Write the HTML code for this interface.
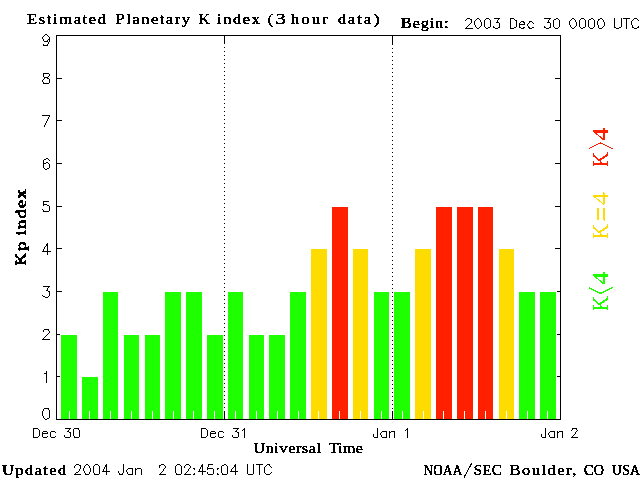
<!DOCTYPE html>
<html><head><meta charset="utf-8"><title>Estimated Planetary K index</title>
<style>html,body{margin:0;padding:0;background:#fff;overflow:hidden}svg{display:block;will-change:transform}.b{font-family:"Liberation Serif",serif;font-weight:normal;fill:#000;stroke:#000;stroke-width:0.45px}.r{font-family:"Liberation Serif",serif}</style></head><body>
<svg width="640" height="480" viewBox="0 0 640 480">
<rect x="0" y="0" width="640" height="480" fill="#fff"/>
<g shape-rendering="crispEdges">
<rect x="61" y="335" width="16" height="84" fill="#1eff00"/>
<rect x="69" y="411" width="1" height="8" fill="#fff"/>
<rect x="82" y="377" width="16" height="42" fill="#1eff00"/>
<rect x="89" y="411" width="1" height="8" fill="#fff"/>
<rect x="103" y="292" width="15" height="127" fill="#1eff00"/>
<rect x="110" y="411" width="1" height="8" fill="#fff"/>
<rect x="124" y="335" width="15" height="84" fill="#1eff00"/>
<rect x="131" y="411" width="1" height="8" fill="#fff"/>
<rect x="145" y="335" width="15" height="84" fill="#1eff00"/>
<rect x="152" y="411" width="1" height="8" fill="#fff"/>
<rect x="165" y="292" width="16" height="127" fill="#1eff00"/>
<rect x="173" y="411" width="1" height="8" fill="#fff"/>
<rect x="186" y="292" width="16" height="127" fill="#1eff00"/>
<rect x="193" y="411" width="1" height="8" fill="#fff"/>
<rect x="207" y="335" width="16" height="84" fill="#1eff00"/>
<rect x="214" y="411" width="1" height="8" fill="#fff"/>
<rect x="228" y="292" width="15" height="127" fill="#1eff00"/>
<rect x="235" y="411" width="1" height="8" fill="#fff"/>
<rect x="249" y="335" width="15" height="84" fill="#1eff00"/>
<rect x="256" y="411" width="1" height="8" fill="#fff"/>
<rect x="269" y="335" width="16" height="84" fill="#1eff00"/>
<rect x="277" y="411" width="1" height="8" fill="#fff"/>
<rect x="290" y="292" width="16" height="127" fill="#1eff00"/>
<rect x="298" y="411" width="1" height="8" fill="#fff"/>
<rect x="311" y="249" width="16" height="170" fill="#ffdc00"/>
<rect x="318" y="411" width="1" height="8" fill="#fff"/>
<rect x="332" y="207" width="16" height="212" fill="#ff2000"/>
<rect x="339" y="411" width="1" height="8" fill="#fff"/>
<rect x="353" y="249" width="15" height="170" fill="#ffdc00"/>
<rect x="360" y="411" width="1" height="8" fill="#fff"/>
<rect x="374" y="292" width="15" height="127" fill="#1eff00"/>
<rect x="381" y="411" width="1" height="8" fill="#fff"/>
<rect x="394" y="292" width="16" height="127" fill="#1eff00"/>
<rect x="402" y="411" width="1" height="8" fill="#fff"/>
<rect x="415" y="249" width="16" height="170" fill="#ffdc00"/>
<rect x="423" y="411" width="1" height="8" fill="#fff"/>
<rect x="436" y="207" width="16" height="212" fill="#ff2000"/>
<rect x="443" y="411" width="1" height="8" fill="#fff"/>
<rect x="457" y="207" width="16" height="212" fill="#ff2000"/>
<rect x="464" y="411" width="1" height="8" fill="#fff"/>
<rect x="478" y="207" width="15" height="212" fill="#ff2000"/>
<rect x="485" y="411" width="1" height="8" fill="#fff"/>
<rect x="499" y="249" width="15" height="170" fill="#ffdc00"/>
<rect x="506" y="411" width="1" height="8" fill="#fff"/>
<rect x="519" y="292" width="16" height="127" fill="#1eff00"/>
<rect x="527" y="411" width="1" height="8" fill="#fff"/>
<rect x="540" y="292" width="16" height="127" fill="#1eff00"/>
<rect x="547" y="411" width="1" height="8" fill="#fff"/>
<rect x="56" y="35" width="505" height="1" fill="#000"/>
<rect x="56" y="419" width="505" height="1" fill="#000"/>
<rect x="56" y="35" width="1" height="385" fill="#000"/>
<rect x="560" y="35" width="1" height="385" fill="#000"/>
<rect x="57" y="376" width="3" height="1" fill="#000"/>
<rect x="557" y="376" width="3" height="1" fill="#000"/>
<rect x="57" y="334" width="3" height="1" fill="#000"/>
<rect x="557" y="334" width="3" height="1" fill="#000"/>
<rect x="57" y="291" width="5" height="1" fill="#000"/>
<rect x="557" y="291" width="3" height="1" fill="#000"/>
<rect x="57" y="248" width="5" height="1" fill="#000"/>
<rect x="555" y="248" width="5" height="1" fill="#000"/>
<rect x="57" y="206" width="5" height="1" fill="#000"/>
<rect x="555" y="206" width="5" height="1" fill="#000"/>
<rect x="57" y="163" width="5" height="1" fill="#000"/>
<rect x="555" y="163" width="5" height="1" fill="#000"/>
<rect x="57" y="120" width="5" height="1" fill="#000"/>
<rect x="555" y="120" width="5" height="1" fill="#000"/>
<rect x="57" y="78" width="5" height="1" fill="#000"/>
<rect x="555" y="78" width="5" height="1" fill="#000"/>
<rect x="224" y="36" width="1" height="8" fill="#000"/>
<rect x="224" y="411" width="1" height="8" fill="#000"/>
<rect x="224" y="47" width="1" height="1" fill="#000"/>
<rect x="224" y="51" width="1" height="1" fill="#000"/>
<rect x="224" y="55" width="1" height="1" fill="#000"/>
<rect x="224" y="59" width="1" height="1" fill="#000"/>
<rect x="224" y="63" width="1" height="1" fill="#000"/>
<rect x="224" y="67" width="1" height="1" fill="#000"/>
<rect x="224" y="71" width="1" height="1" fill="#000"/>
<rect x="224" y="75" width="1" height="1" fill="#000"/>
<rect x="224" y="79" width="1" height="1" fill="#000"/>
<rect x="224" y="83" width="1" height="1" fill="#000"/>
<rect x="224" y="87" width="1" height="1" fill="#000"/>
<rect x="224" y="91" width="1" height="1" fill="#000"/>
<rect x="224" y="95" width="1" height="1" fill="#000"/>
<rect x="224" y="99" width="1" height="1" fill="#000"/>
<rect x="224" y="103" width="1" height="1" fill="#000"/>
<rect x="224" y="107" width="1" height="1" fill="#000"/>
<rect x="224" y="111" width="1" height="1" fill="#000"/>
<rect x="224" y="115" width="1" height="1" fill="#000"/>
<rect x="224" y="119" width="1" height="1" fill="#000"/>
<rect x="224" y="123" width="1" height="1" fill="#000"/>
<rect x="224" y="127" width="1" height="1" fill="#000"/>
<rect x="224" y="131" width="1" height="1" fill="#000"/>
<rect x="224" y="135" width="1" height="1" fill="#000"/>
<rect x="224" y="139" width="1" height="1" fill="#000"/>
<rect x="224" y="143" width="1" height="1" fill="#000"/>
<rect x="224" y="147" width="1" height="1" fill="#000"/>
<rect x="224" y="151" width="1" height="1" fill="#000"/>
<rect x="224" y="155" width="1" height="1" fill="#000"/>
<rect x="224" y="159" width="1" height="1" fill="#000"/>
<rect x="224" y="163" width="1" height="1" fill="#000"/>
<rect x="224" y="167" width="1" height="1" fill="#000"/>
<rect x="224" y="171" width="1" height="1" fill="#000"/>
<rect x="224" y="175" width="1" height="1" fill="#000"/>
<rect x="224" y="179" width="1" height="1" fill="#000"/>
<rect x="224" y="183" width="1" height="1" fill="#000"/>
<rect x="224" y="187" width="1" height="1" fill="#000"/>
<rect x="224" y="191" width="1" height="1" fill="#000"/>
<rect x="224" y="195" width="1" height="1" fill="#000"/>
<rect x="224" y="199" width="1" height="1" fill="#000"/>
<rect x="224" y="203" width="1" height="1" fill="#000"/>
<rect x="224" y="207" width="1" height="1" fill="#000"/>
<rect x="224" y="211" width="1" height="1" fill="#000"/>
<rect x="224" y="215" width="1" height="1" fill="#000"/>
<rect x="224" y="219" width="1" height="1" fill="#000"/>
<rect x="224" y="223" width="1" height="1" fill="#000"/>
<rect x="224" y="227" width="1" height="1" fill="#000"/>
<rect x="224" y="231" width="1" height="1" fill="#000"/>
<rect x="224" y="235" width="1" height="1" fill="#000"/>
<rect x="224" y="239" width="1" height="1" fill="#000"/>
<rect x="224" y="243" width="1" height="1" fill="#000"/>
<rect x="224" y="247" width="1" height="1" fill="#000"/>
<rect x="224" y="251" width="1" height="1" fill="#000"/>
<rect x="224" y="255" width="1" height="1" fill="#000"/>
<rect x="224" y="259" width="1" height="1" fill="#000"/>
<rect x="224" y="263" width="1" height="1" fill="#000"/>
<rect x="224" y="267" width="1" height="1" fill="#000"/>
<rect x="224" y="271" width="1" height="1" fill="#000"/>
<rect x="224" y="275" width="1" height="1" fill="#000"/>
<rect x="224" y="279" width="1" height="1" fill="#000"/>
<rect x="224" y="283" width="1" height="1" fill="#000"/>
<rect x="224" y="287" width="1" height="1" fill="#000"/>
<rect x="224" y="291" width="1" height="1" fill="#000"/>
<rect x="224" y="295" width="1" height="1" fill="#000"/>
<rect x="224" y="299" width="1" height="1" fill="#000"/>
<rect x="224" y="303" width="1" height="1" fill="#000"/>
<rect x="224" y="307" width="1" height="1" fill="#000"/>
<rect x="224" y="311" width="1" height="1" fill="#000"/>
<rect x="224" y="315" width="1" height="1" fill="#000"/>
<rect x="224" y="319" width="1" height="1" fill="#000"/>
<rect x="224" y="323" width="1" height="1" fill="#000"/>
<rect x="224" y="327" width="1" height="1" fill="#000"/>
<rect x="224" y="331" width="1" height="1" fill="#000"/>
<rect x="224" y="335" width="1" height="1" fill="#000"/>
<rect x="224" y="339" width="1" height="1" fill="#000"/>
<rect x="224" y="343" width="1" height="1" fill="#000"/>
<rect x="224" y="347" width="1" height="1" fill="#000"/>
<rect x="224" y="351" width="1" height="1" fill="#000"/>
<rect x="224" y="355" width="1" height="1" fill="#000"/>
<rect x="224" y="359" width="1" height="1" fill="#000"/>
<rect x="224" y="363" width="1" height="1" fill="#000"/>
<rect x="224" y="367" width="1" height="1" fill="#000"/>
<rect x="224" y="371" width="1" height="1" fill="#000"/>
<rect x="224" y="375" width="1" height="1" fill="#000"/>
<rect x="224" y="379" width="1" height="1" fill="#000"/>
<rect x="224" y="383" width="1" height="1" fill="#000"/>
<rect x="224" y="387" width="1" height="1" fill="#000"/>
<rect x="224" y="391" width="1" height="1" fill="#000"/>
<rect x="224" y="395" width="1" height="1" fill="#000"/>
<rect x="224" y="399" width="1" height="1" fill="#000"/>
<rect x="224" y="403" width="1" height="1" fill="#000"/>
<rect x="224" y="407" width="1" height="1" fill="#000"/>
<rect x="392" y="36" width="1" height="8" fill="#000"/>
<rect x="392" y="411" width="1" height="8" fill="#000"/>
<rect x="392" y="44" width="1" height="1" fill="#000"/>
<rect x="392" y="48" width="1" height="1" fill="#000"/>
<rect x="392" y="52" width="1" height="1" fill="#000"/>
<rect x="392" y="56" width="1" height="1" fill="#000"/>
<rect x="392" y="60" width="1" height="1" fill="#000"/>
<rect x="392" y="64" width="1" height="1" fill="#000"/>
<rect x="392" y="68" width="1" height="1" fill="#000"/>
<rect x="392" y="72" width="1" height="1" fill="#000"/>
<rect x="392" y="76" width="1" height="1" fill="#000"/>
<rect x="392" y="80" width="1" height="1" fill="#000"/>
<rect x="392" y="84" width="1" height="1" fill="#000"/>
<rect x="392" y="88" width="1" height="1" fill="#000"/>
<rect x="392" y="92" width="1" height="1" fill="#000"/>
<rect x="392" y="96" width="1" height="1" fill="#000"/>
<rect x="392" y="100" width="1" height="1" fill="#000"/>
<rect x="392" y="104" width="1" height="1" fill="#000"/>
<rect x="392" y="108" width="1" height="1" fill="#000"/>
<rect x="392" y="112" width="1" height="1" fill="#000"/>
<rect x="392" y="116" width="1" height="1" fill="#000"/>
<rect x="392" y="120" width="1" height="1" fill="#000"/>
<rect x="392" y="124" width="1" height="1" fill="#000"/>
<rect x="392" y="128" width="1" height="1" fill="#000"/>
<rect x="392" y="132" width="1" height="1" fill="#000"/>
<rect x="392" y="136" width="1" height="1" fill="#000"/>
<rect x="392" y="140" width="1" height="1" fill="#000"/>
<rect x="392" y="144" width="1" height="1" fill="#000"/>
<rect x="392" y="148" width="1" height="1" fill="#000"/>
<rect x="392" y="152" width="1" height="1" fill="#000"/>
<rect x="392" y="156" width="1" height="1" fill="#000"/>
<rect x="392" y="160" width="1" height="1" fill="#000"/>
<rect x="392" y="164" width="1" height="1" fill="#000"/>
<rect x="392" y="168" width="1" height="1" fill="#000"/>
<rect x="392" y="172" width="1" height="1" fill="#000"/>
<rect x="392" y="176" width="1" height="1" fill="#000"/>
<rect x="392" y="180" width="1" height="1" fill="#000"/>
<rect x="392" y="184" width="1" height="1" fill="#000"/>
<rect x="392" y="188" width="1" height="1" fill="#000"/>
<rect x="392" y="192" width="1" height="1" fill="#000"/>
<rect x="392" y="196" width="1" height="1" fill="#000"/>
<rect x="392" y="200" width="1" height="1" fill="#000"/>
<rect x="392" y="204" width="1" height="1" fill="#000"/>
<rect x="392" y="208" width="1" height="1" fill="#000"/>
<rect x="392" y="212" width="1" height="1" fill="#000"/>
<rect x="392" y="216" width="1" height="1" fill="#000"/>
<rect x="392" y="220" width="1" height="1" fill="#000"/>
<rect x="392" y="224" width="1" height="1" fill="#000"/>
<rect x="392" y="228" width="1" height="1" fill="#000"/>
<rect x="392" y="232" width="1" height="1" fill="#000"/>
<rect x="392" y="236" width="1" height="1" fill="#000"/>
<rect x="392" y="240" width="1" height="1" fill="#000"/>
<rect x="392" y="244" width="1" height="1" fill="#000"/>
<rect x="392" y="248" width="1" height="1" fill="#000"/>
<rect x="392" y="252" width="1" height="1" fill="#000"/>
<rect x="392" y="256" width="1" height="1" fill="#000"/>
<rect x="392" y="260" width="1" height="1" fill="#000"/>
<rect x="392" y="264" width="1" height="1" fill="#000"/>
<rect x="392" y="268" width="1" height="1" fill="#000"/>
<rect x="392" y="272" width="1" height="1" fill="#000"/>
<rect x="392" y="276" width="1" height="1" fill="#000"/>
<rect x="392" y="280" width="1" height="1" fill="#000"/>
<rect x="392" y="284" width="1" height="1" fill="#000"/>
<rect x="392" y="288" width="1" height="1" fill="#000"/>
<rect x="392" y="292" width="1" height="1" fill="#000"/>
<rect x="392" y="296" width="1" height="1" fill="#000"/>
<rect x="392" y="300" width="1" height="1" fill="#000"/>
<rect x="392" y="304" width="1" height="1" fill="#000"/>
<rect x="392" y="308" width="1" height="1" fill="#000"/>
<rect x="392" y="312" width="1" height="1" fill="#000"/>
<rect x="392" y="316" width="1" height="1" fill="#000"/>
<rect x="392" y="320" width="1" height="1" fill="#000"/>
<rect x="392" y="324" width="1" height="1" fill="#000"/>
<rect x="392" y="328" width="1" height="1" fill="#000"/>
<rect x="392" y="332" width="1" height="1" fill="#000"/>
<rect x="392" y="336" width="1" height="1" fill="#000"/>
<rect x="392" y="340" width="1" height="1" fill="#000"/>
<rect x="392" y="344" width="1" height="1" fill="#000"/>
<rect x="392" y="348" width="1" height="1" fill="#000"/>
<rect x="392" y="352" width="1" height="1" fill="#000"/>
<rect x="392" y="356" width="1" height="1" fill="#000"/>
<rect x="392" y="360" width="1" height="1" fill="#000"/>
<rect x="392" y="364" width="1" height="1" fill="#000"/>
<rect x="392" y="368" width="1" height="1" fill="#000"/>
<rect x="392" y="372" width="1" height="1" fill="#000"/>
<rect x="392" y="376" width="1" height="1" fill="#000"/>
<rect x="392" y="380" width="1" height="1" fill="#000"/>
<rect x="392" y="384" width="1" height="1" fill="#000"/>
<rect x="392" y="388" width="1" height="1" fill="#000"/>
<rect x="392" y="392" width="1" height="1" fill="#000"/>
<rect x="392" y="396" width="1" height="1" fill="#000"/>
<rect x="392" y="400" width="1" height="1" fill="#000"/>
<rect x="392" y="404" width="1" height="1" fill="#000"/>
<rect x="392" y="408" width="1" height="1" fill="#000"/>
</g>
<defs><filter id="th" x="0" y="0" width="640" height="480" filterUnits="userSpaceOnUse" color-interpolation-filters="sRGB"><feComponentTransfer><feFuncA type="discrete" tableValues="0 1"/></feComponentTransfer></filter></defs>
<g filter="url(#th)">
<text class="b" transform="translate(27.0,24) scale(1.100,1)" font-size="15" textLength="71.82" lengthAdjust="spacing">Estimated</text>
<text class="b" transform="translate(115.5,24) scale(1.100,1)" font-size="15" textLength="67.73" lengthAdjust="spacing">Planetary</text>
<text class="b" transform="translate(199.0,24) scale(0.995,1)" font-size="15" textLength="11.05" lengthAdjust="spacing">K</text>
<text class="b" transform="translate(217.0,24) scale(1.100,1)" font-size="15" textLength="39.09" lengthAdjust="spacing">index</text>
<text class="b" transform="translate(267.7,23.6) scale(1.040,1)" font-size="15" textLength="5.10" lengthAdjust="spacing">(</text>
<text class="b" transform="translate(275.5,24) scale(1.350,1)" font-size="15" textLength="14.59" lengthAdjust="spacing">3</text>
<text class="b" transform="translate(291.0,24) scale(1.100,1)" font-size="15" textLength="33.36" lengthAdjust="spacing">hour</text>
<text class="b" transform="translate(338.0,24) scale(1.100,1)" font-size="15" textLength="30.00" lengthAdjust="spacing">data</text>
<text class="b" transform="translate(373.5,23.6) scale(1.197,1)" font-size="15" textLength="5.10" lengthAdjust="spacing">)</text>
<text class="b" transform="translate(401.0,27.5) scale(1.100,1)" font-size="14.5" textLength="43.45" lengthAdjust="spacing">Begin:</text>
<text class="b" transform="translate(253.5,452.5) scale(1.100,1)" font-size="14.5" textLength="61.36" lengthAdjust="spacing">Universal</text>
<text class="b" transform="translate(328.7,452.5) scale(1.100,1)" font-size="14.5" textLength="31.00" lengthAdjust="spacing">Time</text>
<text class="b" transform="translate(2.0,474.5) scale(1.100,1)" font-size="15" textLength="58.45" lengthAdjust="spacing">Updated</text>
<text class="b" transform="translate(423.5,474.7) scale(0.875,1)" font-size="15" textLength="44.21" lengthAdjust="spacing">NOAA</text>
<text class="b" transform="translate(473.7,474.7) scale(0.994,1)" font-size="15" textLength="28.07" lengthAdjust="spacing">SEC</text>
<text class="b" transform="translate(509.6,474.7) scale(1.100,1)" font-size="15" textLength="60.64" lengthAdjust="spacing">Boulder,</text>
<text class="b" transform="translate(584.0,474.7) scale(0.941,1)" font-size="15" textLength="21.26" lengthAdjust="spacing">CO</text>
<text class="b" transform="translate(612.0,474.7) scale(0.914,1)" font-size="15" textLength="30.62" lengthAdjust="spacing">USA</text>
<line x1="463.8" y1="478" x2="472" y2="462.5" stroke="#000" stroke-width="1.1"/>
<g transform="translate(25.8,265.5) rotate(-90)">
<text class="b" transform="translate(-0.3,0) scale(1.221,1)" font-size="15" textLength="11.05" lengthAdjust="spacing" style="stroke-width:0.75px">K</text>
<text class="b" transform="translate(14.5,0) scale(1.300,1)" font-size="15" textLength="8.46" lengthAdjust="spacing" style="stroke-width:0.75px">p</text>
<text class="b" transform="translate(30,0) scale(1.300,1)" font-size="15" textLength="35.62" lengthAdjust="spacing" style="stroke-width:0.75px">index</text>
</g>
<g transform="translate(608,167) rotate(-90)" fill="#ff2000" stroke="none">
<text class="r" x="0" y="0" font-size="24" textLength="15" lengthAdjust="spacingAndGlyphs">K</text>
<text class="r" x="26.5" y="0" font-size="24" textLength="13" lengthAdjust="spacingAndGlyphs">4</text>
<polyline points="18.2,-19.3 24.2,-7.5 18.2,4.7" fill="none" stroke="#ff2000" stroke-width="1.2"/>
</g>
<g transform="translate(608,239) rotate(-90)" fill="#ffdc00" stroke="none">
<text class="r" x="0" y="0" font-size="24" textLength="15" lengthAdjust="spacingAndGlyphs">K</text>
<text class="r" x="34" y="0" font-size="24" textLength="13" lengthAdjust="spacingAndGlyphs">4</text>
<rect x="18.4" y="-10.7" width="12.6" height="1.5"/><rect x="18.4" y="-4.6" width="12.6" height="1.5"/>
</g>
<g transform="translate(608,311) rotate(-90)" fill="#1eff00" stroke="none">
<text class="r" x="0" y="0" font-size="24" textLength="15" lengthAdjust="spacingAndGlyphs">K</text>
<text class="r" x="26.5" y="0" font-size="24" textLength="13" lengthAdjust="spacingAndGlyphs">4</text>
<polyline points="23.5,-19.3 17.6,-7.5 23.5,4.7" fill="none" stroke="#1eff00" stroke-width="1.2"/>
</g>
</g>
<path fill="#000" shape-rendering="crispEdges" d="M467 18h3v1h-3zM477 18h2v1h-2zM486 18h3v1h-3zM494 18h6v1h-6zM510 18h4v1h-4zM544 18h7v1h-7zM556 18h2v1h-2zM572 18h2v1h-2zM581 18h3v1h-3zM591 18h2v1h-2zM600 18h2v1h-2zM614 18h1v1h-1zM621 18h1v1h-1zM623 18h7v1h-7zM634 18h3v1h-3zM466 19h1v1h-1zM470 19h2v1h-2zM476 19h1v1h-1zM479 19h1v1h-1zM485 19h1v1h-1zM489 19h1v1h-1zM498 19h1v1h-1zM510 19h1v1h-1zM514 19h1v1h-1zM549 19h1v1h-1zM554 19h2v1h-2zM558 19h1v1h-1zM571 19h1v1h-1zM574 19h1v1h-1zM580 19h1v1h-1zM584 19h1v1h-1zM589 19h2v1h-2zM593 19h1v1h-1zM598 19h2v1h-2zM602 19h1v1h-1zM614 19h1v1h-1zM621 19h1v1h-1zM626 19h1v1h-1zM633 19h1v1h-1zM637 19h1v1h-1zM465 20h1v1h-1zM471 20h1v1h-1zM475 20h1v1h-1zM480 20h1v1h-1zM484 20h1v1h-1zM490 20h1v1h-1zM497 20h1v1h-1zM510 20h1v1h-1zM515 20h2v1h-2zM548 20h1v1h-1zM553 20h1v1h-1zM559 20h1v1h-1zM570 20h1v1h-1zM575 20h1v1h-1zM579 20h1v1h-1zM585 20h1v1h-1zM588 20h1v1h-1zM594 20h1v1h-1zM598 20h1v1h-1zM603 20h1v1h-1zM614 20h1v1h-1zM621 20h1v1h-1zM626 20h1v1h-1zM632 20h1v1h-1zM638 20h1v1h-1zM471 21h1v1h-1zM474 21h1v1h-1zM480 21h1v1h-1zM484 21h1v1h-1zM490 21h1v1h-1zM497 21h1v1h-1zM510 21h1v1h-1zM516 21h1v1h-1zM521 21h3v1h-3zM529 21h3v1h-3zM548 21h1v1h-1zM553 21h1v1h-1zM559 21h1v1h-1zM569 21h1v1h-1zM575 21h1v1h-1zM579 21h1v1h-1zM585 21h1v1h-1zM588 21h1v1h-1zM594 21h1v1h-1zM597 21h1v1h-1zM603 21h1v1h-1zM614 21h1v1h-1zM621 21h1v1h-1zM626 21h1v1h-1zM631 21h1v1h-1zM471 22h1v1h-1zM474 22h1v1h-1zM481 22h1v1h-1zM484 22h1v1h-1zM490 22h1v1h-1zM496 22h3v1h-3zM510 22h1v1h-1zM516 22h1v1h-1zM520 22h1v1h-1zM523 22h2v1h-2zM529 22h1v1h-1zM532 22h1v1h-1zM547 22h3v1h-3zM553 22h1v1h-1zM559 22h1v1h-1zM569 22h1v1h-1zM576 22h1v1h-1zM579 22h1v1h-1zM585 22h1v1h-1zM588 22h1v1h-1zM594 22h1v1h-1zM597 22h1v1h-1zM604 22h1v1h-1zM614 22h1v1h-1zM621 22h1v1h-1zM626 22h1v1h-1zM631 22h1v1h-1zM470 23h1v1h-1zM474 23h1v1h-1zM481 23h1v1h-1zM484 23h1v1h-1zM490 23h1v1h-1zM499 23h1v1h-1zM510 23h1v1h-1zM516 23h1v1h-1zM519 23h1v1h-1zM524 23h1v1h-1zM528 23h1v1h-1zM533 23h1v1h-1zM550 23h1v1h-1zM553 23h1v1h-1zM559 23h1v1h-1zM569 23h1v1h-1zM576 23h1v1h-1zM579 23h1v1h-1zM585 23h1v1h-1zM588 23h1v1h-1zM594 23h1v1h-1zM597 23h1v1h-1zM604 23h1v1h-1zM614 23h1v1h-1zM621 23h1v1h-1zM626 23h1v1h-1zM631 23h1v1h-1zM469 24h1v1h-1zM474 24h1v1h-1zM481 24h1v1h-1zM484 24h1v1h-1zM490 24h1v1h-1zM499 24h1v1h-1zM510 24h1v1h-1zM516 24h1v1h-1zM519 24h6v1h-6zM527 24h1v1h-1zM550 24h1v1h-1zM553 24h1v1h-1zM559 24h1v1h-1zM569 24h1v1h-1zM576 24h1v1h-1zM579 24h1v1h-1zM585 24h1v1h-1zM588 24h1v1h-1zM594 24h1v1h-1zM597 24h1v1h-1zM604 24h1v1h-1zM614 24h1v1h-1zM621 24h1v1h-1zM626 24h1v1h-1zM631 24h1v1h-1zM468 25h1v1h-1zM475 25h1v1h-1zM481 25h1v1h-1zM484 25h1v1h-1zM490 25h1v1h-1zM499 25h1v1h-1zM510 25h1v1h-1zM516 25h1v1h-1zM519 25h1v1h-1zM527 25h1v1h-1zM550 25h1v1h-1zM553 25h1v1h-1zM559 25h1v1h-1zM570 25h1v1h-1zM576 25h1v1h-1zM579 25h1v1h-1zM585 25h1v1h-1zM588 25h1v1h-1zM594 25h1v1h-1zM598 25h1v1h-1zM604 25h1v1h-1zM614 25h1v1h-1zM621 25h1v1h-1zM626 25h1v1h-1zM632 25h1v1h-1zM467 26h1v1h-1zM475 26h1v1h-1zM480 26h1v1h-1zM484 26h1v1h-1zM490 26h1v1h-1zM493 26h1v1h-1zM499 26h1v1h-1zM510 26h1v1h-1zM516 26h1v1h-1zM519 26h1v1h-1zM528 26h1v1h-1zM544 26h1v1h-1zM550 26h1v1h-1zM553 26h1v1h-1zM559 26h1v1h-1zM570 26h1v1h-1zM575 26h1v1h-1zM579 26h1v1h-1zM585 26h1v1h-1zM588 26h1v1h-1zM594 26h1v1h-1zM598 26h1v1h-1zM603 26h1v1h-1zM614 26h1v1h-1zM621 26h1v1h-1zM626 26h1v1h-1zM632 26h1v1h-1zM638 26h1v1h-1zM466 27h1v1h-1zM476 27h1v1h-1zM479 27h1v1h-1zM485 27h1v1h-1zM488 27h2v1h-2zM493 27h2v1h-2zM498 27h2v1h-2zM510 27h1v1h-1zM514 27h2v1h-2zM519 27h2v1h-2zM523 27h2v1h-2zM528 27h2v1h-2zM532 27h2v1h-2zM544 27h2v1h-2zM549 27h2v1h-2zM554 27h1v1h-1zM558 27h1v1h-1zM571 27h1v1h-1zM574 27h1v1h-1zM580 27h1v1h-1zM583 27h2v1h-2zM589 27h1v1h-1zM593 27h1v1h-1zM598 27h1v1h-1zM602 27h1v1h-1zM614 27h2v1h-2zM619 27h2v1h-2zM626 27h1v1h-1zM632 27h2v1h-2zM637 27h2v1h-2zM465 28h8v1h-8zM477 28h2v1h-2zM486 28h2v1h-2zM495 28h3v1h-3zM510 28h4v1h-4zM521 28h3v1h-3zM529 28h3v1h-3zM546 28h3v1h-3zM555 28h3v1h-3zM572 28h2v1h-2zM581 28h2v1h-2zM590 28h3v1h-3zM599 28h3v1h-3zM616 28h3v1h-3zM626 28h1v1h-1zM634 28h3v1h-3zM45 34h2v1h-2zM44 35h1v1h-1zM47 35h1v1h-1zM43 36h1v1h-1zM48 36h1v1h-1zM42 37h1v1h-1zM49 37h1v1h-1zM42 38h1v1h-1zM49 38h1v1h-1zM43 39h1v1h-1zM48 39h2v1h-2zM43 40h1v1h-1zM47 40h1v1h-1zM49 40h1v1h-1zM44 41h4v1h-4zM49 41h1v1h-1zM48 42h1v1h-1zM48 43h1v1h-1zM43 44h1v1h-1zM47 44h1v1h-1zM43 45h5v1h-5zM43 73h6v1h-6zM43 74h1v1h-1zM49 74h1v1h-1zM43 75h1v1h-1zM49 75h1v1h-1zM43 76h1v1h-1zM48 76h1v1h-1zM44 77h4v1h-4zM44 78h1v1h-1zM47 78h2v1h-2zM43 79h1v1h-1zM49 79h1v1h-1zM42 80h1v1h-1zM49 80h1v1h-1zM42 81h1v1h-1zM49 81h1v1h-1zM43 82h1v1h-1zM49 82h1v1h-1zM43 83h6v1h-6zM42 115h8v1h-8zM49 116h1v1h-1zM48 117h1v1h-1zM48 118h1v1h-1zM47 119h1v1h-1zM47 120h1v1h-1zM46 121h1v1h-1zM46 122h1v1h-1zM45 123h1v1h-1zM45 124h1v1h-1zM44 125h1v1h-1zM44 126h1v1h-1zM46 158h2v1h-2zM44 159h2v1h-2zM48 159h1v1h-1zM43 160h1v1h-1zM49 160h1v1h-1zM43 161h1v1h-1zM43 162h1v1h-1zM46 162h2v1h-2zM43 163h3v1h-3zM48 163h1v1h-1zM43 164h1v1h-1zM49 164h1v1h-1zM43 165h1v1h-1zM49 165h1v1h-1zM43 166h1v1h-1zM49 166h1v1h-1zM43 167h1v1h-1zM49 167h1v1h-1zM44 168h1v1h-1zM47 168h2v1h-2zM45 169h2v1h-2zM43 201h6v1h-6zM43 202h1v1h-1zM43 203h1v1h-1zM43 204h4v1h-4zM43 205h1v1h-1zM47 205h2v1h-2zM49 206h1v1h-1zM49 207h1v1h-1zM49 208h1v1h-1zM42 209h1v1h-1zM49 209h1v1h-1zM43 210h1v1h-1zM49 210h1v1h-1zM43 211h6v1h-6zM47 243h1v1h-1zM46 244h2v1h-2zM46 245h2v1h-2zM45 246h1v1h-1zM47 246h1v1h-1zM44 247h1v1h-1zM47 247h1v1h-1zM44 248h1v1h-1zM47 248h1v1h-1zM43 249h1v1h-1zM47 249h1v1h-1zM43 250h1v1h-1zM47 250h1v1h-1zM42 251h9v1h-9zM47 252h1v1h-1zM47 253h1v1h-1zM47 254h1v1h-1zM43 286h7v1h-7zM48 287h1v1h-1zM47 288h1v1h-1zM47 289h1v1h-1zM46 290h2v1h-2zM48 291h2v1h-2zM49 292h1v1h-1zM49 293h1v1h-1zM49 294h1v1h-1zM42 295h1v1h-1zM49 295h1v1h-1zM43 296h2v1h-2zM48 296h1v1h-1zM45 297h3v1h-3zM44 329h5v1h-5zM43 330h1v1h-1zM48 330h1v1h-1zM43 331h1v1h-1zM49 331h1v1h-1zM49 332h1v1h-1zM48 333h1v1h-1zM47 334h1v1h-1zM46 335h1v1h-1zM45 336h1v1h-1zM44 337h1v1h-1zM43 338h1v1h-1zM42 339h8v1h-8zM46 371h1v1h-1zM46 372h1v1h-1zM44 373h3v1h-3zM46 374h1v1h-1zM46 375h1v1h-1zM46 376h1v1h-1zM46 377h1v1h-1zM46 378h1v1h-1zM46 379h1v1h-1zM46 380h1v1h-1zM46 381h1v1h-1zM46 382h1v1h-1zM44 408h5v1h-5zM43 409h1v1h-1zM48 409h1v1h-1zM43 410h1v1h-1zM49 410h1v1h-1zM42 411h1v1h-1zM49 411h1v1h-1zM42 412h1v1h-1zM49 412h1v1h-1zM42 413h1v1h-1zM49 413h1v1h-1zM42 414h1v1h-1zM49 414h1v1h-1zM42 415h1v1h-1zM49 415h1v1h-1zM43 416h1v1h-1zM49 416h1v1h-1zM43 417h1v1h-1zM49 417h1v1h-1zM44 418h1v1h-1zM47 418h2v1h-2zM45 419h2v1h-2zM33 428h5v1h-5zM65 428h6v1h-6zM74 428h5v1h-5zM201 428h5v1h-5zM233 428h6v1h-6zM244 428h1v1h-1zM377 428h1v1h-1zM407 428h1v1h-1zM545 428h1v1h-1zM572 428h5v1h-5zM33 429h1v1h-1zM38 429h1v1h-1zM69 429h1v1h-1zM73 429h1v1h-1zM78 429h1v1h-1zM201 429h1v1h-1zM206 429h1v1h-1zM237 429h1v1h-1zM243 429h2v1h-2zM377 429h1v1h-1zM406 429h2v1h-2zM545 429h1v1h-1zM572 429h1v1h-1zM576 429h1v1h-1zM33 430h1v1h-1zM39 430h1v1h-1zM68 430h1v1h-1zM73 430h1v1h-1zM79 430h1v1h-1zM201 430h1v1h-1zM207 430h1v1h-1zM236 430h1v1h-1zM242 430h1v1h-1zM244 430h1v1h-1zM377 430h1v1h-1zM405 430h1v1h-1zM407 430h1v1h-1zM545 430h1v1h-1zM571 430h1v1h-1zM577 430h1v1h-1zM33 431h1v1h-1zM39 431h1v1h-1zM43 431h4v1h-4zM51 431h4v1h-4zM67 431h2v1h-2zM73 431h1v1h-1zM79 431h1v1h-1zM201 431h1v1h-1zM207 431h1v1h-1zM211 431h4v1h-4zM219 431h4v1h-4zM235 431h2v1h-2zM244 431h1v1h-1zM377 431h1v1h-1zM382 431h5v1h-5zM389 431h1v1h-1zM391 431h4v1h-4zM407 431h1v1h-1zM545 431h1v1h-1zM550 431h5v1h-5zM557 431h1v1h-1zM559 431h4v1h-4zM576 431h1v1h-1zM33 432h1v1h-1zM39 432h1v1h-1zM42 432h1v1h-1zM47 432h1v1h-1zM50 432h1v1h-1zM55 432h1v1h-1zM69 432h2v1h-2zM73 432h1v1h-1zM79 432h1v1h-1zM201 432h1v1h-1zM207 432h1v1h-1zM210 432h1v1h-1zM215 432h1v1h-1zM218 432h1v1h-1zM223 432h1v1h-1zM237 432h2v1h-2zM244 432h1v1h-1zM377 432h1v1h-1zM381 432h1v1h-1zM386 432h1v1h-1zM389 432h2v1h-2zM394 432h1v1h-1zM407 432h1v1h-1zM545 432h1v1h-1zM549 432h1v1h-1zM554 432h1v1h-1zM557 432h2v1h-2zM562 432h1v1h-1zM575 432h1v1h-1zM33 433h1v1h-1zM39 433h1v1h-1zM42 433h6v1h-6zM50 433h1v1h-1zM70 433h1v1h-1zM73 433h1v1h-1zM79 433h1v1h-1zM201 433h1v1h-1zM207 433h1v1h-1zM210 433h6v1h-6zM218 433h1v1h-1zM238 433h1v1h-1zM244 433h1v1h-1zM377 433h1v1h-1zM380 433h1v1h-1zM386 433h1v1h-1zM389 433h1v1h-1zM394 433h1v1h-1zM407 433h1v1h-1zM545 433h1v1h-1zM548 433h1v1h-1zM554 433h1v1h-1zM557 433h1v1h-1zM562 433h1v1h-1zM575 433h1v1h-1zM33 434h1v1h-1zM39 434h1v1h-1zM42 434h1v1h-1zM50 434h1v1h-1zM70 434h1v1h-1zM73 434h1v1h-1zM79 434h1v1h-1zM201 434h1v1h-1zM207 434h1v1h-1zM210 434h1v1h-1zM218 434h1v1h-1zM238 434h1v1h-1zM244 434h1v1h-1zM373 434h1v1h-1zM377 434h1v1h-1zM380 434h1v1h-1zM386 434h1v1h-1zM389 434h1v1h-1zM394 434h1v1h-1zM407 434h1v1h-1zM541 434h1v1h-1zM545 434h1v1h-1zM548 434h1v1h-1zM554 434h1v1h-1zM557 434h1v1h-1zM562 434h1v1h-1zM574 434h1v1h-1zM33 435h1v1h-1zM39 435h1v1h-1zM42 435h1v1h-1zM50 435h1v1h-1zM64 435h1v1h-1zM70 435h1v1h-1zM73 435h1v1h-1zM79 435h1v1h-1zM201 435h1v1h-1zM207 435h1v1h-1zM210 435h1v1h-1zM218 435h1v1h-1zM232 435h1v1h-1zM238 435h1v1h-1zM244 435h1v1h-1zM373 435h1v1h-1zM377 435h1v1h-1zM381 435h1v1h-1zM386 435h1v1h-1zM389 435h1v1h-1zM394 435h1v1h-1zM407 435h1v1h-1zM541 435h1v1h-1zM545 435h1v1h-1zM549 435h1v1h-1zM554 435h1v1h-1zM557 435h1v1h-1zM562 435h1v1h-1zM573 435h1v1h-1zM33 436h1v1h-1zM38 436h1v1h-1zM42 436h1v1h-1zM47 436h1v1h-1zM50 436h1v1h-1zM55 436h1v1h-1zM64 436h1v1h-1zM70 436h1v1h-1zM74 436h1v1h-1zM79 436h1v1h-1zM201 436h1v1h-1zM206 436h1v1h-1zM210 436h1v1h-1zM215 436h1v1h-1zM218 436h1v1h-1zM223 436h1v1h-1zM232 436h1v1h-1zM238 436h1v1h-1zM244 436h1v1h-1zM373 436h1v1h-1zM377 436h1v1h-1zM381 436h1v1h-1zM386 436h1v1h-1zM389 436h1v1h-1zM394 436h1v1h-1zM407 436h1v1h-1zM541 436h1v1h-1zM545 436h1v1h-1zM549 436h1v1h-1zM554 436h1v1h-1zM557 436h1v1h-1zM562 436h1v1h-1zM572 436h1v1h-1zM33 437h5v1h-5zM43 437h4v1h-4zM51 437h4v1h-4zM65 437h5v1h-5zM74 437h5v1h-5zM201 437h5v1h-5zM211 437h4v1h-4zM219 437h4v1h-4zM233 437h5v1h-5zM244 437h1v1h-1zM374 437h4v1h-4zM382 437h5v1h-5zM389 437h1v1h-1zM394 437h1v1h-1zM407 437h1v1h-1zM542 437h4v1h-4zM550 437h5v1h-5zM557 437h1v1h-1zM562 437h1v1h-1zM571 437h7v1h-7zM76 464h3v1h-3zM86 464h2v1h-2zM95 464h3v1h-3zM106 464h1v1h-1zM123 464h1v1h-1zM161 464h3v1h-3zM177 464h3v1h-3zM186 464h3v1h-3zM202 464h1v1h-1zM208 464h5v1h-5zM224 464h2v1h-2zM235 464h1v1h-1zM247 464h1v1h-1zM253 464h1v1h-1zM256 464h7v1h-7zM267 464h3v1h-3zM75 465h1v1h-1zM79 465h2v1h-2zM85 465h1v1h-1zM88 465h1v1h-1zM94 465h1v1h-1zM98 465h1v1h-1zM105 465h2v1h-2zM123 465h1v1h-1zM159 465h2v1h-2zM164 465h1v1h-1zM176 465h1v1h-1zM180 465h1v1h-1zM185 465h1v1h-1zM189 465h1v1h-1zM201 465h2v1h-2zM208 465h1v1h-1zM222 465h2v1h-2zM226 465h1v1h-1zM234 465h2v1h-2zM247 465h1v1h-1zM253 465h1v1h-1zM259 465h1v1h-1zM266 465h1v1h-1zM269 465h1v1h-1zM74 466h1v1h-1zM80 466h1v1h-1zM84 466h1v1h-1zM89 466h1v1h-1zM93 466h1v1h-1zM99 466h1v1h-1zM105 466h2v1h-2zM123 466h1v1h-1zM159 466h1v1h-1zM165 466h1v1h-1zM175 466h1v1h-1zM181 466h1v1h-1zM184 466h1v1h-1zM190 466h1v1h-1zM201 466h2v1h-2zM208 466h1v1h-1zM221 466h1v1h-1zM227 466h1v1h-1zM234 466h2v1h-2zM247 466h1v1h-1zM253 466h1v1h-1zM259 466h1v1h-1zM265 466h1v1h-1zM270 466h1v1h-1zM74 467h1v1h-1zM80 467h1v1h-1zM84 467h1v1h-1zM89 467h1v1h-1zM93 467h1v1h-1zM99 467h1v1h-1zM104 467h1v1h-1zM106 467h1v1h-1zM123 467h1v1h-1zM159 467h1v1h-1zM165 467h1v1h-1zM175 467h1v1h-1zM181 467h1v1h-1zM184 467h1v1h-1zM190 467h1v1h-1zM200 467h1v1h-1zM202 467h1v1h-1zM207 467h1v1h-1zM221 467h1v1h-1zM227 467h1v1h-1zM233 467h1v1h-1zM235 467h1v1h-1zM247 467h1v1h-1zM253 467h1v1h-1zM259 467h1v1h-1zM264 467h1v1h-1zM271 467h1v1h-1zM80 468h1v1h-1zM83 468h1v1h-1zM90 468h1v1h-1zM93 468h1v1h-1zM99 468h1v1h-1zM104 468h1v1h-1zM106 468h1v1h-1zM123 468h1v1h-1zM128 468h5v1h-5zM135 468h1v1h-1zM137 468h4v1h-4zM164 468h1v1h-1zM175 468h1v1h-1zM181 468h1v1h-1zM189 468h1v1h-1zM193 468h2v1h-2zM200 468h1v1h-1zM202 468h1v1h-1zM207 468h6v1h-6zM217 468h2v1h-2zM221 468h1v1h-1zM227 468h1v1h-1zM232 468h1v1h-1zM235 468h1v1h-1zM247 468h1v1h-1zM253 468h1v1h-1zM259 468h1v1h-1zM264 468h1v1h-1zM79 469h1v1h-1zM83 469h1v1h-1zM90 469h1v1h-1zM93 469h1v1h-1zM99 469h1v1h-1zM103 469h1v1h-1zM106 469h1v1h-1zM123 469h1v1h-1zM127 469h1v1h-1zM132 469h1v1h-1zM135 469h2v1h-2zM141 469h1v1h-1zM163 469h1v1h-1zM175 469h1v1h-1zM181 469h1v1h-1zM188 469h1v1h-1zM194 469h1v1h-1zM199 469h1v1h-1zM202 469h1v1h-1zM207 469h1v1h-1zM213 469h1v1h-1zM217 469h1v1h-1zM221 469h1v1h-1zM227 469h1v1h-1zM231 469h1v1h-1zM235 469h1v1h-1zM247 469h1v1h-1zM253 469h1v1h-1zM259 469h1v1h-1zM264 469h1v1h-1zM79 470h1v1h-1zM83 470h1v1h-1zM90 470h1v1h-1zM93 470h1v1h-1zM99 470h1v1h-1zM103 470h1v1h-1zM106 470h1v1h-1zM123 470h1v1h-1zM126 470h1v1h-1zM132 470h1v1h-1zM135 470h1v1h-1zM141 470h1v1h-1zM163 470h1v1h-1zM175 470h1v1h-1zM181 470h1v1h-1zM188 470h1v1h-1zM199 470h1v1h-1zM202 470h1v1h-1zM213 470h1v1h-1zM221 470h1v1h-1zM227 470h1v1h-1zM231 470h1v1h-1zM235 470h1v1h-1zM247 470h1v1h-1zM253 470h1v1h-1zM259 470h1v1h-1zM264 470h1v1h-1zM78 471h1v1h-1zM84 471h1v1h-1zM90 471h1v1h-1zM93 471h1v1h-1zM99 471h1v1h-1zM102 471h8v1h-8zM118 471h1v1h-1zM123 471h1v1h-1zM126 471h1v1h-1zM132 471h1v1h-1zM135 471h1v1h-1zM141 471h1v1h-1zM162 471h1v1h-1zM175 471h1v1h-1zM181 471h1v1h-1zM187 471h1v1h-1zM198 471h8v1h-8zM213 471h1v1h-1zM221 471h1v1h-1zM227 471h1v1h-1zM230 471h8v1h-8zM247 471h1v1h-1zM253 471h1v1h-1zM259 471h1v1h-1zM264 471h1v1h-1zM76 472h2v1h-2zM84 472h1v1h-1zM89 472h1v1h-1zM93 472h1v1h-1zM99 472h1v1h-1zM106 472h1v1h-1zM118 472h1v1h-1zM123 472h1v1h-1zM127 472h1v1h-1zM132 472h1v1h-1zM135 472h1v1h-1zM141 472h1v1h-1zM161 472h1v1h-1zM175 472h1v1h-1zM181 472h1v1h-1zM186 472h1v1h-1zM202 472h1v1h-1zM207 472h1v1h-1zM213 472h1v1h-1zM221 472h1v1h-1zM227 472h1v1h-1zM235 472h1v1h-1zM247 472h1v1h-1zM253 472h1v1h-1zM259 472h1v1h-1zM264 472h1v1h-1zM271 472h1v1h-1zM75 473h1v1h-1zM85 473h1v1h-1zM89 473h1v1h-1zM94 473h1v1h-1zM99 473h1v1h-1zM106 473h1v1h-1zM119 473h1v1h-1zM122 473h1v1h-1zM127 473h1v1h-1zM132 473h1v1h-1zM135 473h1v1h-1zM141 473h1v1h-1zM160 473h1v1h-1zM176 473h1v1h-1zM181 473h1v1h-1zM185 473h1v1h-1zM194 473h1v1h-1zM202 473h1v1h-1zM207 473h1v1h-1zM213 473h1v1h-1zM217 473h1v1h-1zM222 473h1v1h-1zM227 473h1v1h-1zM235 473h1v1h-1zM247 473h1v1h-1zM253 473h1v1h-1zM259 473h1v1h-1zM265 473h1v1h-1zM270 473h1v1h-1zM74 474h7v1h-7zM85 474h4v1h-4zM94 474h5v1h-5zM106 474h1v1h-1zM119 474h4v1h-4zM128 474h5v1h-5zM135 474h1v1h-1zM141 474h1v1h-1zM159 474h7v1h-7zM176 474h5v1h-5zM184 474h7v1h-7zM193 474h2v1h-2zM202 474h1v1h-1zM208 474h5v1h-5zM217 474h2v1h-2zM222 474h5v1h-5zM235 474h1v1h-1zM248 474h5v1h-5zM259 474h1v1h-1zM266 474h4v1h-4z"/>
</svg></body></html>
